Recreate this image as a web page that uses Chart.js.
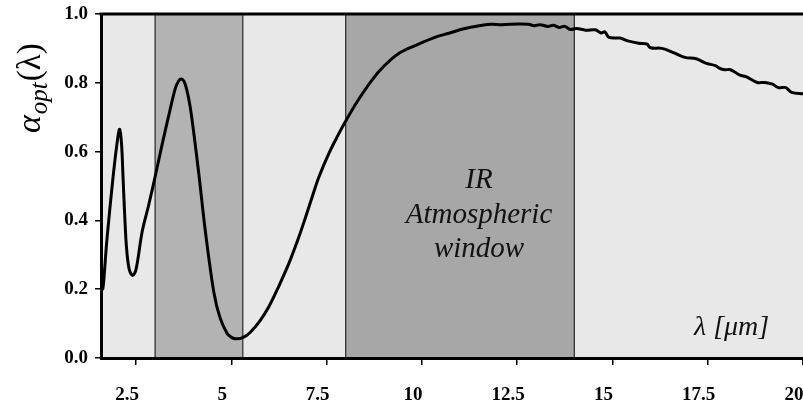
<!DOCTYPE html>
<html><head><meta charset="utf-8">
<script src="https://cdn.jsdelivr.net/npm/chart.js@4/dist/chart.umd.min.js"></script>
<style>html,body{margin:0;padding:0;background:#fff}#wrap{width:803px;height:407px;position:relative}</style>
</head><body><div id="wrap"><canvas id="c" width="803" height="407"></canvas></div>
<script>
const wavelength = [1.58,1.62,1.74,1.90,2.02,2.07,2.12,2.16,2.20,2.25,2.32,2.41,2.50,2.66,2.83,3.01,3.18,3.36,3.53,3.62,3.69,3.76,3.83,3.92,4.01,4.15,4.32,4.54,4.70,4.89,5.00,5.11,5.30,5.50,5.75,5.98,6.25,6.51,6.75,6.95,7.15,7.30,7.56,7.80,7.99,8.30,8.69,9.00,9.40,9.90,10.36,10.71,11.10,11.50,11.80,12.10,12.54,12.80,12.95,13.10,13.30,13.45,13.60,13.75,13.90,14.05,14.30,14.55,14.70,14.80,14.91,15.20,15.40,15.69,15.90,16.00,16.30,16.60,16.90,17.20,17.45,17.70,17.80,17.95,18.10,18.35,18.50,18.80,19.00,19.20,19.35,19.55,19.70,20.00];
const absorptance = [0.375,0.20,0.35,0.53,0.64,0.665,0.62,0.52,0.42,0.32,0.258,0.240,0.258,0.367,0.444,0.532,0.619,0.706,0.784,0.806,0.811,0.804,0.780,0.730,0.658,0.532,0.367,0.192,0.118,0.071,0.060,0.056,0.059,0.075,0.108,0.148,0.21,0.275,0.345,0.41,0.478,0.527,0.595,0.648,0.687,0.745,0.808,0.848,0.886,0.912,0.933,0.944,0.957,0.966,0.970,0.969,0.971,0.970,0.966,0.969,0.964,0.967,0.961,0.964,0.955,0.958,0.953,0.954,0.945,0.948,0.932,0.930,0.922,0.915,0.913,0.902,0.900,0.888,0.874,0.870,0.857,0.850,0.843,0.838,0.838,0.822,0.818,0.801,0.801,0.796,0.786,0.786,0.772,0.768];
const xTicks = [2.5,5,7.5,10,12.5,15,17.5,20];
const yTicks = [0,0.2,0.4,0.6,0.8,1.0];
const bandStart = [3.0, 8.0];
const bandEnd = [5.3, 14.0];
const bandColors = ['#b3b3b3', '#a7a7a7'];
const windowLabel = ['IR', 'Atmospheric', 'window'];
const unitLabel = 'λ [μm]';
const yTitleParts = ['α', 'opt', '(λ)'];

const SERIF = '"Liberation Serif", "DejaVu Serif", serif';

const decor = {
  id: 'decor',
  beforeDraw(chart) {
    const {ctx, chartArea: a, scales: {x}} = chart;
    ctx.save();
    ctx.fillStyle = '#e8e8e8';
    ctx.fillRect(a.left, a.top, a.right - a.left, a.bottom - a.top);
    for (let i = 0; i < bandStart.length; i++) {
      const x0 = x.getPixelForValue(bandStart[i]);
      const x1 = x.getPixelForValue(bandEnd[i]);
      ctx.fillStyle = bandColors[i];
      ctx.fillRect(x0, a.top, x1 - x0, a.bottom - a.top);
      ctx.strokeStyle = '#333';
      ctx.lineWidth = 1.3;
      ctx.beginPath();
      ctx.moveTo(x0, a.top); ctx.lineTo(x0, a.bottom);
      ctx.moveTo(x1, a.top); ctx.lineTo(x1, a.bottom);
      ctx.stroke();
    }
    ctx.restore();
  },
  afterDraw(chart) {
    const {ctx, chartArea: a} = chart;
    ctx.save();
    ctx.strokeStyle = '#000';
    ctx.lineWidth = 3;
    ctx.beginPath();
    ctx.moveTo(a.left - 1.5, a.top);
    ctx.lineTo(a.right, a.top);
    ctx.stroke();
    ctx.fillStyle = '#111';
    ctx.font = 'italic 29px ' + SERIF;
    ctx.textAlign = 'center';
    ctx.textBaseline = 'alphabetic';
    const cx = a.left + 378;
    windowLabel.forEach((t, i) => ctx.fillText(t, cx, a.top + 174 + i * 34.5));
    ctx.font = 'italic 28px ' + SERIF;
    ctx.textAlign = 'left';
    ctx.fillText(unitLabel, a.left + 593, a.top + 321);
    ctx.translate(40, 133);
    ctx.rotate(-Math.PI / 2);
    ctx.fillStyle = '#000';
    ctx.font = 'italic 34px ' + SERIF;
    ctx.fillText(yTitleParts[0], 0, 0);
    let w = ctx.measureText(yTitleParts[0]).width;
    ctx.font = 'italic 25px ' + SERIF;
    ctx.fillText(yTitleParts[1], w + 1, 7);
    w += 1 + ctx.measureText(yTitleParts[1]).width;
    ctx.font = '33px ' + SERIF;
    ctx.fillText(yTitleParts[2], w + 1, 0);
    ctx.restore();
  }
};

new Chart(document.getElementById('c'), {
  type: 'line',
  data: {
    datasets: [{
      data: wavelength.map((v, i) => ({x: v, y: absorptance[i]})),
      borderColor: '#000',
      borderWidth: 3,
      pointRadius: 0,
      fill: false,
      tension: 0.35
    }]
  },
  options: {
    responsive: false,
    devicePixelRatio: 1,
    animation: false,
    layout: {padding: {top: 14, left: 0, right: 0, bottom: 0}},
    plugins: {legend: {display: false}, tooltip: {enabled: false}},
    scales: {
      x: {
        type: 'linear', min: 1.58, max: 20,
        afterBuildTicks: s => { s.ticks = xTicks.map(v => ({value: v})); },
        afterFit: s => { s.height = 49; s.paddingLeft = 0; s.paddingRight = 0; },
        ticks: {
          color: '#000', padding: 19, labelOffset: -9, maxRotation: 0, autoSkip: false,
          font: {family: SERIF, weight: 'bold', size: 19},
          callback: v => String(v)
        },
        grid: {drawOnChartArea: false, drawTicks: true, tickLength: 7, color: '#000', lineWidth: 1.5},
        border: {display: true, color: '#000', width: 3}
      },
      y: {
        min: 0, max: 1,
        afterBuildTicks: s => { s.ticks = yTicks.map(v => ({value: v})); },
        afterFit: s => { s.width = 101; s.paddingTop = 0; s.paddingBottom = 0; },
        ticks: {
          color: '#000', padding: 7,
          font: {family: SERIF, weight: 'bold', size: 19},
          callback: v => Number(v).toFixed(1)
        },
        grid: {drawOnChartArea: false, drawTicks: true, tickLength: 6, color: '#000', lineWidth: 1.5},
        border: {display: true, color: '#000', width: 3}
      }
    }
  },
  plugins: [decor]
});
</script>
</body></html>
